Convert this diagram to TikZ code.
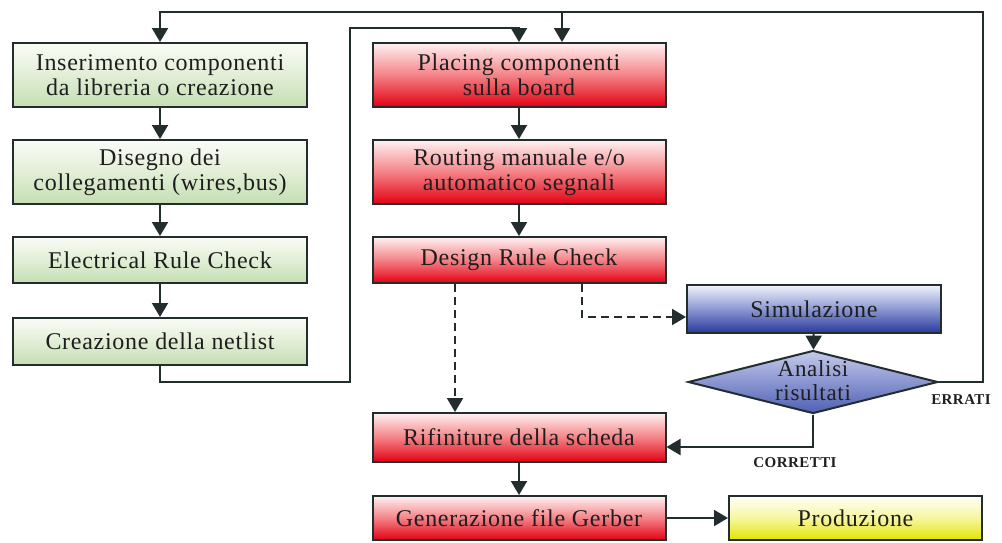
\documentclass[tikz,border=0pt]{standalone}
\usepackage{fontspec}
\setmainfont{Liberation Serif}[LetterSpace=3]
\usetikzlibrary{shapes.geometric,arrows.meta}

\definecolor{linec}{RGB}{35,45,45}
\definecolor{txtc}{RGB}{30,30,30}
\definecolor{gtop}{RGB}{250,252,246}
\definecolor{gmid}{RGB}{226,238,214}
\definecolor{gbot}{RGB}{196,222,178}
\definecolor{rtop}{RGB}{255,242,242}
\definecolor{rmid}{RGB}{244,130,135}
\definecolor{rbot}{RGB}{226,0,18}
\definecolor{btop}{RGB}{242,244,252}
\definecolor{bmid}{RGB}{140,152,210}
\definecolor{bbot}{RGB}{40,56,156}
\definecolor{dtop}{RGB}{196,202,236}
\definecolor{dbot}{RGB}{80,96,180}
\definecolor{ytop}{RGB}{255,255,250}
\definecolor{ymid}{RGB}{246,246,160}
\definecolor{ybot}{RGB}{228,228,0}

\begin{document}
\begin{tikzpicture}[x=0.5pt,y=-0.5pt,
  box/.style={draw=linec, line width=1pt, align=center, text=txtc,
    font=\fontsize{12}{12.5}\selectfont, inner sep=2pt},
  gbox/.style={box, minimum width=147pt, top color=gtop, bottom color=gbot, middle color=gmid},
  rbox/.style={box, minimum width=146.5pt, top color=rtop, bottom color=rbot, middle color=rmid},
  arr/.style={draw=linec, line width=1pt, -{Triangle[length=7pt,width=8pt]}},
  lbl/.style={text=txtc, font=\fontsize{7.5}{8}\selectfont\bfseries, inner sep=1pt}]
\useasboundingbox (0,0) rectangle (1002,542);

% schematic column
\node[gbox, minimum height=32pt] (g1) at (160,75) {Inserimento componenti\\da libreria o creazione};
\node[gbox, minimum height=32pt] (g2) at (160,172) {Disegno dei\\collegamenti (wires,bus)};
\node[gbox, minimum height=23pt] (g3) at (160,260) {Electrical Rule Check};
\node[gbox, minimum height=23.5pt] (g4) at (160,341.5) {Creazione della netlist};

% board column
\node[rbox, minimum height=32pt] (r1) at (519,75) {Placing componenti\\sulla board};
\node[rbox, minimum height=32pt] (r2) at (519,172) {Routing manuale e/o\\automatico segnali};
\node[rbox, minimum height=23pt] (r3) at (519,260) {Design Rule Check};
\node[rbox, minimum height=24.5pt] (r4) at (519,437.5) {Rifiniture della scheda};
\node[rbox, minimum height=22pt] (r5) at (519,518) {Generazione file Gerber};

% simulation and decision
\node[box, minimum width=127pt, minimum height=24pt, top color=btop, bottom color=bbot, middle color=bmid] (sim) at (814,309) {Simulazione};
\node[draw=linec, line width=1pt, diamond, minimum width=125pt, minimum height=31.5pt, inner sep=0pt,
  top color=dtop, bottom color=dbot, text=txtc, font=\fontsize{11.5}{12}\selectfont] (dia) at (813,382)
  {\makebox[0pt]{\smash{\raisebox{-4pt}{\begin{tabular}{@{}c@{}}Analisi\\risultati\end{tabular}}}}};

% production
\node[box, minimum width=126.5pt, minimum height=22pt, top color=ytop, bottom color=ybot, middle color=ymid] (prod) at (855.5,518) {Produzione};

% labels
\node[lbl] (err) at (961,400) {ERRATI};
\node[lbl] (cor) at (795,463) {CORRETTI};

% routing points
\coordinate (top) at (983,12);
\coordinate (tb) at (562,12);
\coordinate (c1) at (350,382);
\coordinate (c2) at (350,28);
\coordinate (d1) at (455,0);
\coordinate (d2) at (582,317);
\coordinate (d3) at (813,447);

% feedback loop from the decision
\draw[arr] (dia.east) -| (top) -| (g1.north);
\draw[arr] (tb) -- (tb |- r1.north);

% schematic flow
\draw[arr] (g1) -- (g2);
\draw[arr] (g2) -- (g3);
\draw[arr] (g3) -- (g4);
\draw[arr] (g4.south) |- (c1) -- (c2) -| (r1.north);

% board flow
\draw[arr] (r1) -- (r2);
\draw[arr] (r2) -- (r3);
\draw[arr, dashed, dash pattern=on 4pt off 2.5pt] (r3.south -| d1) -- (r4.north -| d1);
\draw[arr, dashed, dash pattern=on 4pt off 2.5pt] (r3.south -| d2) |- (sim.west |- d2);
\draw[arr] (sim) -- (dia);
\draw[arr] (dia.south) |- (r4.east |- d3);
\draw[arr] (r4) -- (r5);
\draw[arr] (r5.east) -- (prod.west);
\end{tikzpicture}
\end{document}
